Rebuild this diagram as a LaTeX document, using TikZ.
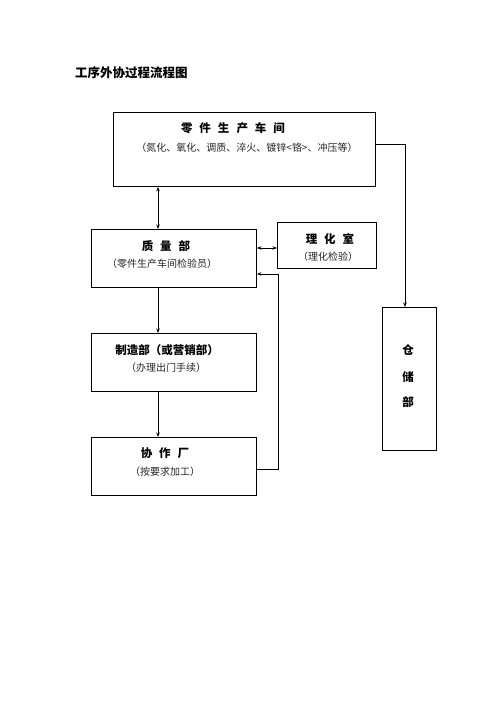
\documentclass[tikz,border=0pt]{standalone}
\usepackage{fontspec}
\setmainfont{Noto Sans CJK SC}
\usetikzlibrary{arrows.meta,calc}
\begin{document}
\begin{tikzpicture}[x=1pt,y=-1pt,
  box/.style={draw,line width=0.9pt,inner sep=0,anchor=north west},
  ttl/.style={font=\fontsize{11.5}{12}\selectfont\bfseries,inner sep=0},
  sub/.style={font=\fontsize{10}{11}\selectfont,text=black!85,inner sep=0},
  conn/.style={line width=0.8pt},
  tip/.style={-{Stealth[length=4.5pt,width=3.5pt]}},
  tips/.style={{Stealth[length=4.5pt,width=3.5pt]}-{Stealth[length=4.5pt,width=3.5pt]}}]
\useasboundingbox (0,0) rectangle (496,702);
\node[anchor=west,inner sep=0,font=\fontsize{12.5}{13}\selectfont\bfseries] (title) at (75,73) {工序外协过程流程图};
% boxes
\node[box,minimum width=262,minimum height=74] (shop) at (113,112) {};
\node[box,minimum width=165,minimum height=58] (qa) at (91,229) {};
\node[box,minimum width=99,minimum height=46] (lab) at (277,222) {};
\node[box,minimum width=165,minimum height=58] (mfg) at (91,333) {};
\node[box,minimum width=165,minimum height=58] (coop) at (91,437) {};
\node[box,minimum width=54,minimum height=143] (store) at (382,307) {};
% texts
\node[ttl] (shopT) at (233,128) {零\hspace{7pt}件\hspace{7pt}生\hspace{7pt}产\hspace{7pt}车\hspace{7pt}间};
\node[sub] (shopS) at (247,148) {（氮化、氧化、调质、淬火、镀锌<铬>、冲压等）};
\node[ttl] (qaT) at (166,246) {质\hspace{7pt}量\hspace{7pt}部};
\node[sub] (qaS) at (162,264) {（零件生产车间检验员）};
\node[ttl] (labT) at (330,239) {理\hspace{7pt}化\hspace{7pt}室};
\node[sub] (labS) at (328,257) {（理化检验）};
\node[ttl] (mfgT) at (167,350) {制造部（或营销部）};
\node[sub] (mfgS) at (166,368) {（办理出门手续）};
\node[ttl] (coopT) at (165,453) {协\hspace{7pt}作\hspace{7pt}厂};
\node[sub] (coopS) at (165,472) {（按要求加工）};
\node[ttl] (st1) at (408,350) {仓};
\node[ttl] (st2) at (408,377) {储};
\node[ttl] (st3) at (408,402) {部};
% connector coordinates
\coordinate (xa) at (158,0);
\coordinate (ylab) at (0,248);
\coordinate (yret) at (0,274);
\coordinate (ycoop) at (0,469);
\coordinate (xret) at (278,0);
\coordinate (yshop) at (0,144);
\coordinate (xst) at (405,0);
% connectors
\draw[conn,tips] (shop.south -| xa) -- (qa.north -| xa);
\draw[conn,tips] (qa.east |- ylab) -- (lab.west |- ylab);
\draw[conn,tip] (qa.south -| xa) -- (mfg.north -| xa);
\draw[conn,tip] (mfg.south -| xa) -- (coop.north -| xa);
\draw[conn,tip] (coop.east |- ycoop) -- (xret |- ycoop) -- (xret |- yret) -- (qa.east |- yret);
\draw[conn,tip] (shop.east |- yshop) -- (xst |- yshop) -- (store.north -| xst);
\end{tikzpicture}
\end{document}
